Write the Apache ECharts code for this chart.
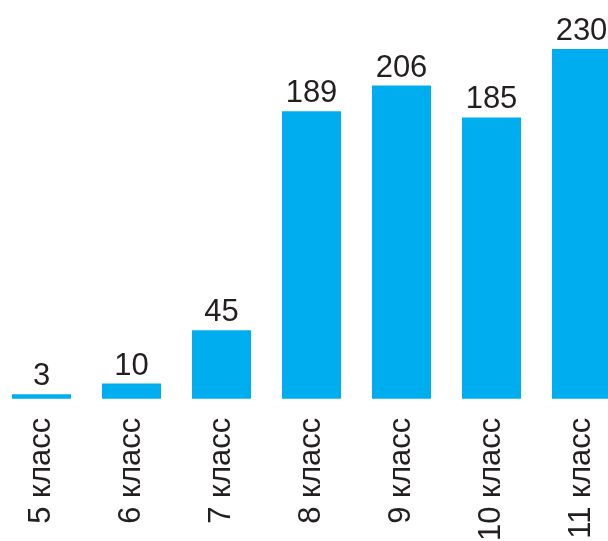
<!DOCTYPE html>
<html><head><meta charset="utf-8">
<script src="https://cdn.jsdelivr.net/npm/echarts@6/dist/echarts.min.js"></script>
<style>html,body{margin:0;padding:0;background:#fff}#c{width:608px;height:541px}</style>
</head><body><div id="c"></div>
<script>
const categories = ['5 класс','6 класс','7 класс','8 класс','9 класс','10 класс','11 класс'];
const values = [3, 10, 45, 189, 206, 185, 230];
const chart = echarts.init(document.getElementById('c'), null, {renderer: 'canvas'});
chart.setOption({
  animation: false,
  grid: {left: -3.5, width: 630, top: 49, bottom: 142.3, containLabel: false, outerBoundsMode: 'none'},
  xAxis: {
    type: 'category', data: categories,
    axisLine: {show: false}, axisTick: {show: false},
    axisLabel: {rotate: 90, margin: 19, fontSize: 31, color: '#231f20', fontFamily: 'Liberation Sans, Arial, sans-serif', interval: 0}
  },
  yAxis: {type: 'value', min: 0, max: 230, show: false, splitLine: {show: false}},
  series: [{
    type: 'bar', data: values, barWidth: 59,
    itemStyle: {color: '#00aeef'},
    label: {show: true, position: 'top', distance: 2, fontSize: 31, color: '#231f20', fontFamily: 'Liberation Sans, Arial, sans-serif'}
  }]
});
</script></body></html>
